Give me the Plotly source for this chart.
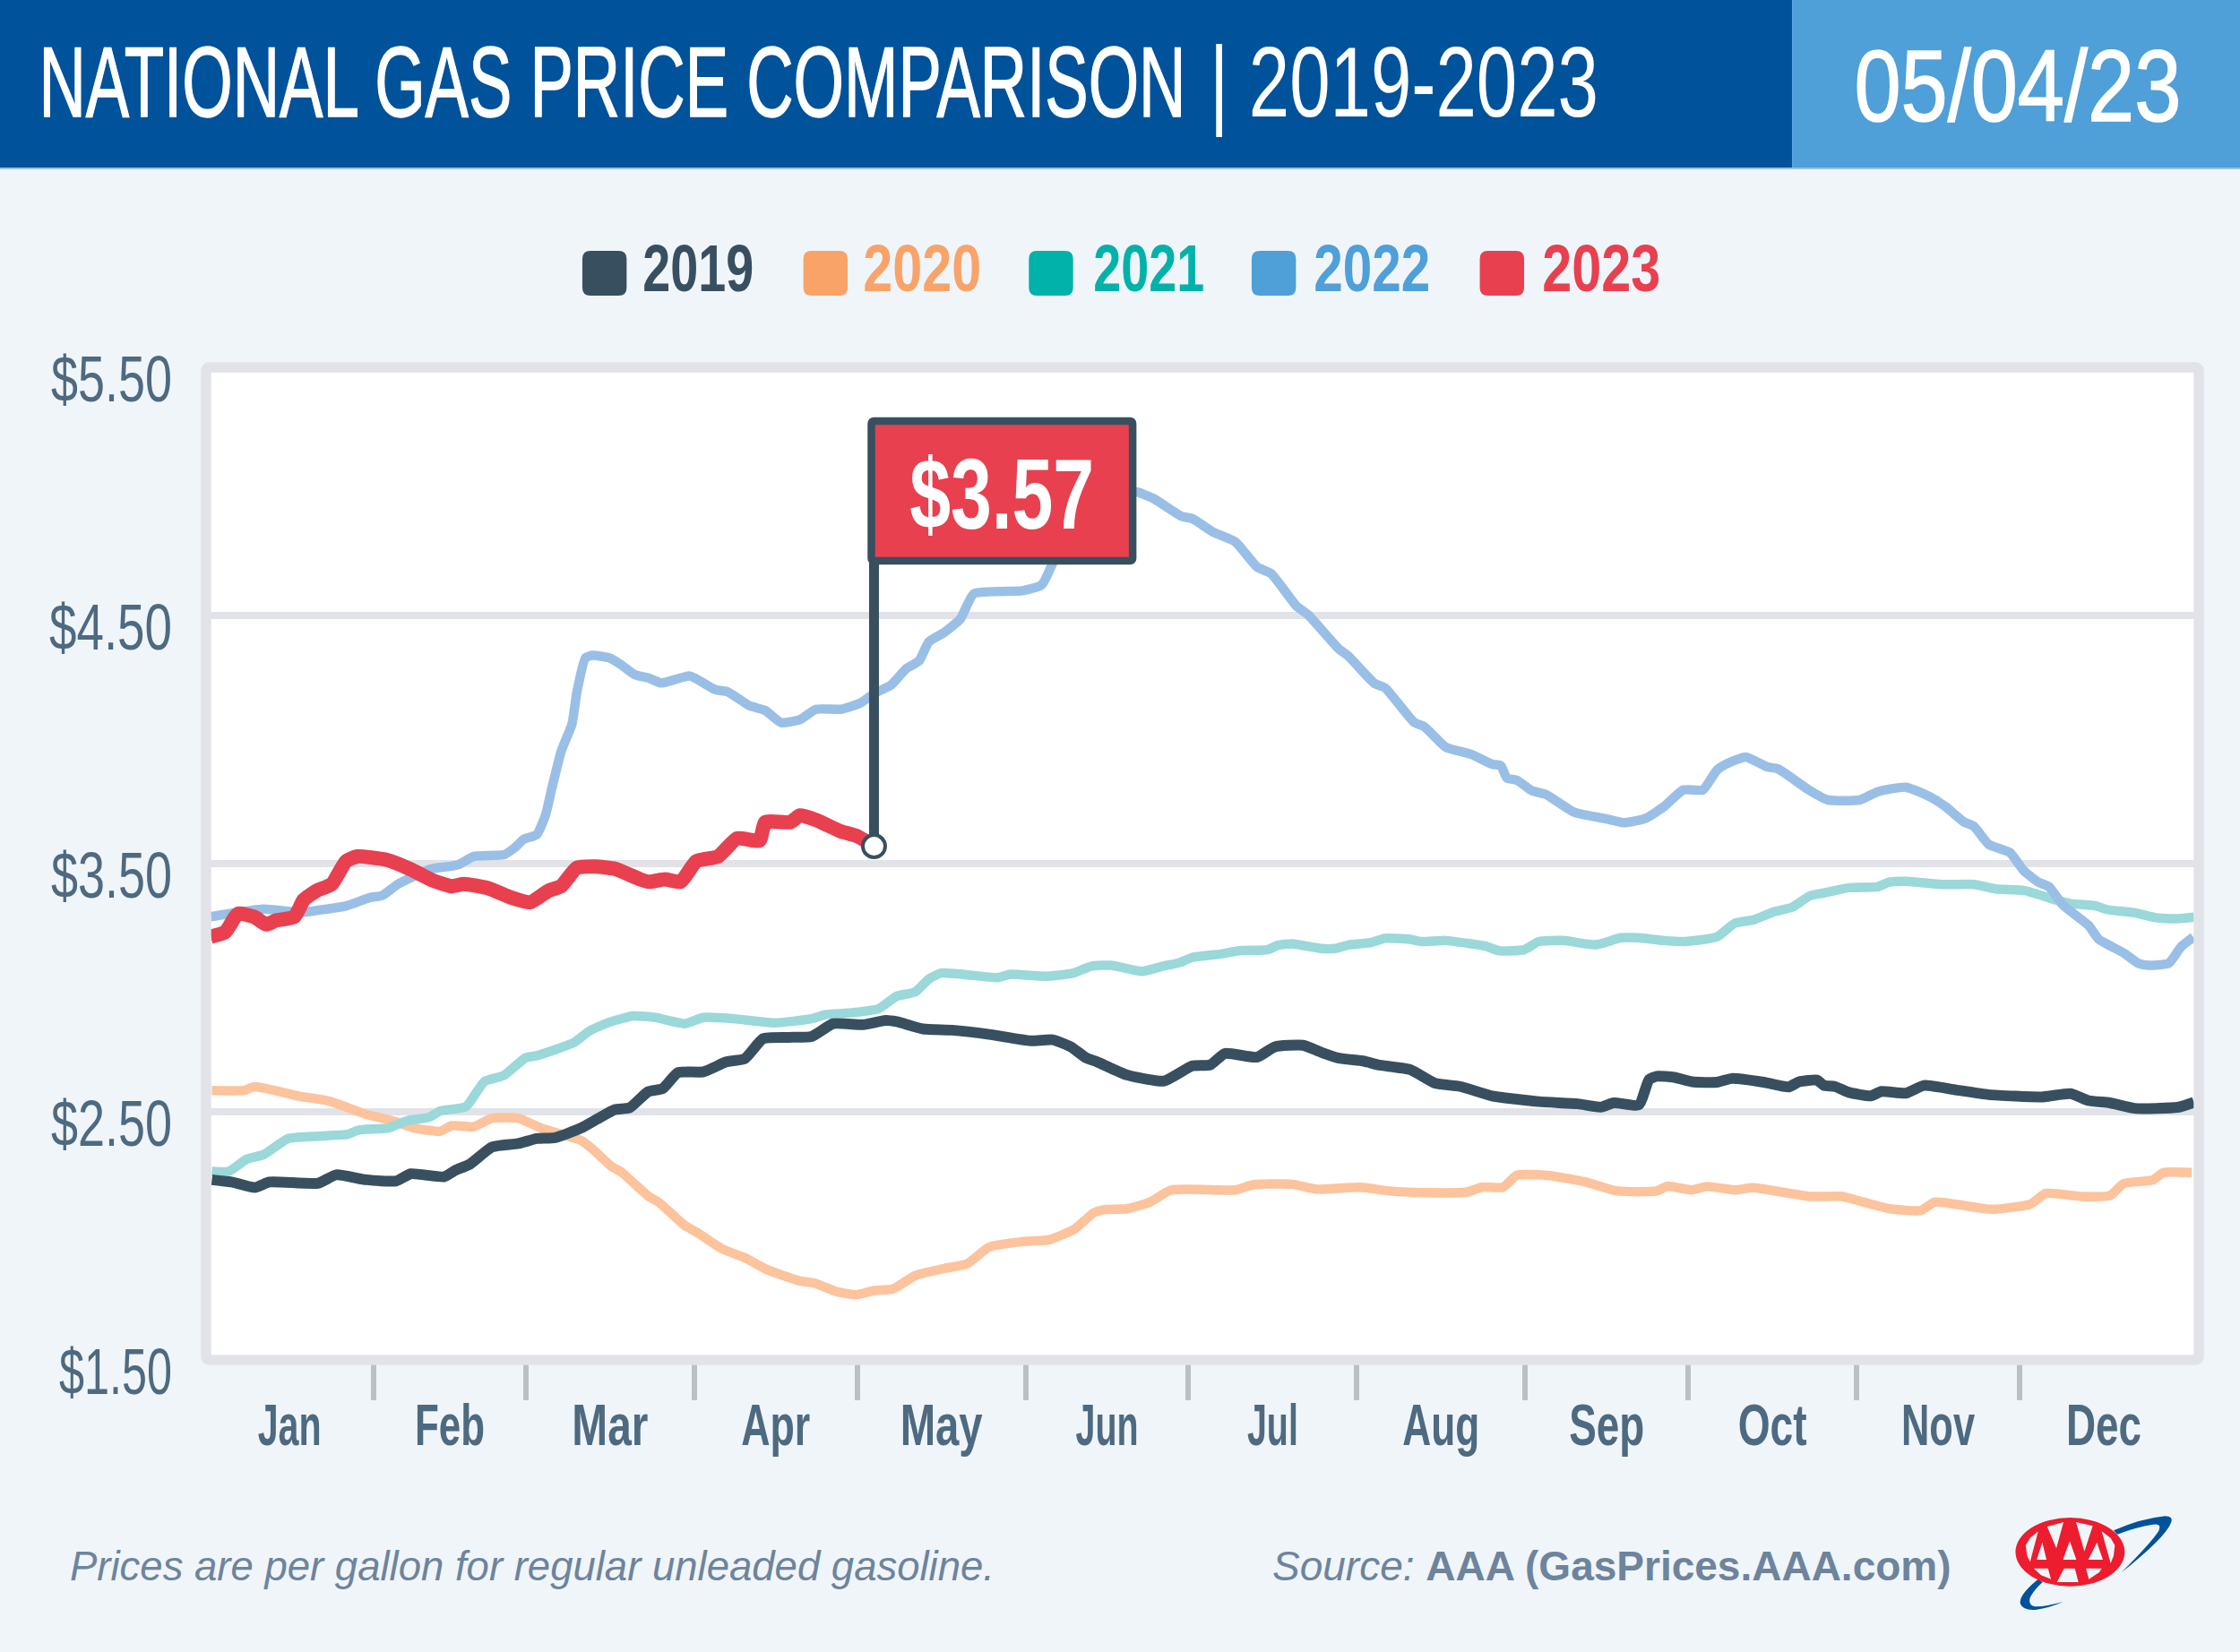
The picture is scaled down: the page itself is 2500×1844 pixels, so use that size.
#!/usr/bin/env python3
"""National gas price comparison, 2019-2023 (values read off the AAA chart)."""

import json
import plotly.graph_objects as go

# day of year where each month starts (2023 calendar)
month_starts = [1, 32, 60, 91, 121, 152, 182, 213, 244, 274, 305, 335, 366]
month_names = ['Jan', 'Feb', 'Mar', 'Apr', 'May', 'Jun', 'Jul', 'Aug', 'Sep', 'Oct', 'Nov', 'Dec']
price_ticks = [1.5, 2.5, 3.5, 4.5, 5.5]
price_labels = ['$1.50', '$2.50', '$3.50', '$4.50', '$5.50']

days_2019 = [2.2, 6, 10.1, 12.8, 21.7, 25.1, 30.6, 36.1, 38.8, 44.9, 47, 49.7, 53.8, 58.6, 62, 65.4, 70.2, 73,
             76.4, 79.1, 82.5, 85.2, 88, 92.7, 96.9, 100.3, 103.7, 108.5, 112.6, 116.6, 122.1, 126.2, 128.3,
             133.1, 138.5, 145.3, 152.9, 157, 160.4, 163.1, 165.2, 170.6, 177.5, 182.7, 186, 188.7, 194.6,
             197.9, 203.1, 206.4, 209.7, 214.3, 216.9, 222.8, 227.4, 232, 237.9, 246.5, 253.7, 257.9, 260.3,
             264.9, 266.8, 268.2, 271.4, 274.7, 279.3, 282, 287.9, 292.5, 294.4, 297.7, 299, 301, 303.6, 307.6,
             309.6, 314.1, 317.4, 323.3, 329.3, 339.1, 344.4, 347.7, 351.6, 356.2, 364.1, 367.1]
prices_2019 = [2.226, 2.216, 2.195, 2.217, 2.212, 2.246, 2.226, 2.221, 2.25, 2.238, 2.264, 2.289, 2.358, 2.372,
               2.392, 2.396, 2.435, 2.469, 2.509, 2.516, 2.581, 2.594, 2.658, 2.661, 2.701, 2.714, 2.795, 2.8,
               2.803, 2.855, 2.851, 2.868, 2.863, 2.834, 2.829, 2.812, 2.786, 2.79, 2.761, 2.718, 2.701, 2.649,
               2.624, 2.685, 2.689, 2.735, 2.72, 2.762, 2.768, 2.74, 2.716, 2.704, 2.689, 2.67, 2.615, 2.602,
               2.564, 2.541, 2.532, 2.519, 2.536, 2.528, 2.63, 2.643, 2.639, 2.621, 2.619, 2.634, 2.619, 2.6,
               2.621, 2.628, 2.606, 2.602, 2.578, 2.564, 2.582, 2.575, 2.606, 2.588, 2.569, 2.56, 2.573, 2.545,
               2.536, 2.514, 2.518, 2.538]

days_2020 = [2.2, 8, 10.1, 18.3, 23.8, 30.6, 35.4, 39.5, 44.2, 46.3, 50.4, 53.8, 58.6, 62.7, 70.2, 72.3, 75.7,
             77.7, 82.5, 84.5, 89.3, 91.4, 96.2, 100.3, 104.4, 110.5, 113.2, 117.3, 120.8, 124.2, 127.6, 131.7,
             137.1, 141.2, 145.3, 151.5, 156.3, 161, 164.5, 166.5, 170.6, 174.9, 178.8, 190.6, 193.9, 201.1,
             205.7, 213.6, 218.9, 226.1, 233.3, 236, 239.9, 242.5, 248.4, 255, 260.9, 268.2, 270.1, 274.7,
             277.4, 282.6, 285.9, 296.4, 302.3, 306.3, 310.9, 316.8, 319.4, 329.9, 337.1, 339.8, 346.3, 351.6,
             354.2, 359.5, 361.5, 366.7]
prices_2020 = [2.586, 2.586, 2.601, 2.563, 2.543, 2.49, 2.464, 2.435, 2.421, 2.444, 2.44, 2.474, 2.474, 2.435,
               2.384, 2.349, 2.281, 2.255, 2.161, 2.135, 2.041, 2.015, 1.947, 1.912, 1.864, 1.818, 1.809, 1.775,
               1.763, 1.78, 1.786, 1.84, 1.869, 1.887, 1.955, 1.977, 1.984, 2.027, 2.092, 2.106, 2.109, 2.136,
               2.185, 2.185, 2.206, 2.208, 2.188, 2.196, 2.181, 2.174, 2.177, 2.196, 2.196, 2.245, 2.243, 2.218,
               2.181, 2.181, 2.2, 2.185, 2.199, 2.185, 2.194, 2.159, 2.159, 2.136, 2.11, 2.102, 2.136, 2.107,
               2.129, 2.171, 2.159, 2.162, 2.211, 2.225, 2.255, 2.255]

days_2021 = [2.2, 5.3, 8.7, 11.7, 16.2, 21, 27.2, 29.2, 34.7, 38.1, 42.2, 44.3, 49, 52.4, 55.9, 60, 62, 68.8,
             71.6, 75, 79.8, 83.9, 89.3, 92.7, 98.2, 105.7, 112.6, 115.3, 119.4, 124.9, 128.3, 131.7, 134.2,
             136.5, 146.9, 149.2, 156.1, 160.8, 164.2, 167.7, 173.5, 177.5, 180.1, 182.7, 188, 191.3, 196.5,
             198.5, 201.1, 206.4, 209, 211.6, 215.6, 218.2, 222.8, 224.8, 229.4, 234, 236.6, 239.2, 243.8,
             246.5, 251, 257, 261.6, 264.9, 269.5, 273.4, 279.3, 282.6, 285.9, 289.8, 293.1, 296.4, 299.7,
             303.6, 308.9, 310.9, 314.1, 320.7, 326.6, 330.6, 335.8, 341.1, 344.4, 349, 351, 356.2, 360.1,
             364.1, 367.1]
prices_2021 = [2.26, 2.26, 2.31, 2.327, 2.392, 2.401, 2.409, 2.426, 2.435, 2.464, 2.478, 2.504, 2.521, 2.623,
               2.646, 2.718, 2.726, 2.778, 2.824, 2.858, 2.886, 2.88, 2.855, 2.88, 2.875, 2.858, 2.875, 2.892,
               2.898, 2.915, 2.966, 2.983, 3.035, 3.059, 3.041, 3.054, 3.046, 3.059, 3.087, 3.09, 3.066, 3.088,
               3.099, 3.122, 3.136, 3.149, 3.153, 3.171, 3.177, 3.158, 3.158, 3.173, 3.182, 3.199, 3.195, 3.186,
               3.19, 3.177, 3.168, 3.149, 3.153, 3.186, 3.19, 3.173, 3.201, 3.201, 3.19, 3.186, 3.205, 3.26,
               3.273, 3.306, 3.324, 3.37, 3.385, 3.403, 3.407, 3.425, 3.429, 3.416, 3.416, 3.398, 3.392, 3.357,
               3.339, 3.33, 3.315, 3.302, 3.282, 3.278, 3.284]

days_2022 = [2, 11.6, 18.6, 24.3, 27, 31.3, 33.6, 36.5, 42.3, 47.5, 50.4, 56, 58, 59.6, 62, 63.6, 64.8, 66.5,
             68.5, 69.4, 71, 72.3, 75.2, 77.5, 80, 82.7, 85, 90.2, 94.9, 97.2, 101.2, 104, 107, 110.5, 113.4,
             118, 121.5, 124.3, 127.2, 130.1, 132.4, 134.2, 137, 140, 142.5, 151.5, 155, 157.3, 160, 162, 165,
             172.2, 175.5, 180.8, 182.7, 186.7, 190.6, 194.6, 197.2, 201.8, 204, 209.7, 211.4, 216.2, 218.2,
             223.5, 225.4, 229.4, 234, 237.9, 239.5, 240.6, 242.5, 245.2, 247.8, 253, 259, 262.2, 266.2, 269.5,
             273.1, 276.7, 279.3, 281.3, 284.6, 288.5, 290.5, 296.4, 299.7, 305.6, 308.9, 314.1, 318.8, 321.4,
             324.7, 326.6, 329.3, 333.2, 335.8, 338.5, 340.4, 343, 347.7, 349.6, 354.2, 356.9, 358.8, 362.5,
             364.7, 367]
prices_2022 = [3.286, 3.317, 3.304, 3.32, 3.33, 3.363, 3.372, 3.418, 3.477, 3.495, 3.529, 3.536, 3.565, 3.598,
               3.617, 3.694, 3.805, 3.952, 4.063, 4.192, 4.33, 4.339, 4.33, 4.302, 4.262, 4.247, 4.228, 4.256,
               4.201, 4.192, 4.136, 4.118, 4.068, 4.081, 4.122, 4.122, 4.146, 4.188, 4.219, 4.287, 4.317, 4.394,
               4.431, 4.486, 4.588, 4.6, 4.624, 4.726, 4.85, 4.95, 5.016, 5.0, 4.972, 4.899, 4.89, 4.834, 4.797,
               4.696, 4.669, 4.54, 4.503, 4.365, 4.337, 4.227, 4.208, 4.07, 4.052, 3.969, 3.941, 3.901, 3.895,
               3.845, 3.836, 3.794, 3.779, 3.707, 3.68, 3.665, 3.683, 3.729, 3.797, 3.797, 3.877, 3.904, 3.93,
               3.89, 3.882, 3.794, 3.757, 3.757, 3.79, 3.808, 3.766, 3.729, 3.669, 3.65, 3.578, 3.545, 3.471,
               3.425, 3.407, 3.333, 3.251, 3.195, 3.14, 3.098, 3.09, 3.099, 3.164, 3.204]

days_2023 = [2, 4.7, 7, 10, 12.2, 14, 17.4, 19.1, 21.5, 24.3, 26.9, 29, 34.2, 38.8, 42.8, 46.3, 48.6, 53.2,
             57.3, 60.8, 64.2, 66.5, 69.4, 72.9, 76.4, 81, 82.7, 85.6, 88.5, 91.4, 95.4, 98.9, 103, 104.1, 108.7,
             110.5, 113.4, 118, 120.9, 124.1]
prices_2023 = [3.206, 3.225, 3.298, 3.285, 3.255, 3.271, 3.286, 3.354, 3.391, 3.418, 3.51, 3.529, 3.516, 3.477,
               3.433, 3.409, 3.418, 3.4, 3.363, 3.344, 3.391, 3.409, 3.483, 3.488, 3.479, 3.437, 3.427, 3.437,
               3.427, 3.51, 3.529, 3.602, 3.593, 3.667, 3.667, 3.694, 3.676, 3.63, 3.612, 3.57]

current_day = 124.1
current_price = 3.57

NAVY = '#00529b'
SKY = '#4f9fd8'
PAGE = '#f0f5f9'
FRAME = '#e1e3e8'
SLATE = '#384f60'
LABEL = '#4d6a80'
RED = '#e8404f'
NOTE = '#6d849c'
NARROW = 'Liberation Sans Narrow, Liberation Sans'
HEAVY = '<span style="stroke:white;stroke-width:1.5px">%s</span>'

# plot area in page pixels
LEFT, RIGHT, TOP, BOTTOM = 227.5, 2454.5, 410, 1518


def xp(px):
    return (px - LEFT) / (RIGHT - LEFT)


def yp(py):
    return (BOTTOM - py) / (BOTTOM - TOP)


def page_path(points, closed=True):
    """SVG path in paper coordinates from page pixel points."""
    d = 'M' + ' L'.join(f'{xp(x):.5f},{yp(y):.5f}' for x, y in points)
    return d + (' Z' if closed else '')


def rounded_path(x0, y0, x1, y1, r):
    d = (f'M{xp(x0 + r):.5f},{yp(y0):.5f} L{xp(x1 - r):.5f},{yp(y0):.5f} '
         f'Q{xp(x1):.5f},{yp(y0):.5f} {xp(x1):.5f},{yp(y0 + r):.5f} '
         f'L{xp(x1):.5f},{yp(y1 - r):.5f} Q{xp(x1):.5f},{yp(y1):.5f} {xp(x1 - r):.5f},{yp(y1):.5f} '
         f'L{xp(x0 + r):.5f},{yp(y1):.5f} Q{xp(x0):.5f},{yp(y1):.5f} {xp(x0):.5f},{yp(y1 - r):.5f} '
         f'L{xp(x0):.5f},{yp(y0 + r):.5f} Q{xp(x0):.5f},{yp(y0):.5f} {xp(x0 + r):.5f},{yp(y0):.5f} Z')
    return d


def paper_rect(x0, y0, x1, y1, color, layer='below'):
    return dict(type='rect', xref='paper', yref='paper', x0=xp(x0), x1=xp(x1), y0=yp(y0), y1=yp(y1),
                fillcolor=color, line_width=0, layer=layer)


def page_text(text, x, y, size, color, bold=False, family=NARROW, anchor='center'):
    shown = f'<b>{text}</b>' if bold else text
    return dict(text=shown, x=xp(x), y=yp(y), xref='paper', yref='paper', xanchor=anchor, yanchor='middle',
                showarrow=False, font=dict(family=family, size=size, color=color))


def logo_shapes():
    """AAA oval and swoosh, points taken off the reference logo."""
    def pt(zx, zy):
        return 2230 + zx / 3, 1680 + zy / 3

    def zpath(cmds):
        out = []
        for c, *vals in cmds:
            coords = [pt(vals[i], vals[i + 1]) for i in range(0, len(vals), 2)]
            out.append(c + ' '.join(f'{xp(x):.5f},{yp(y):.5f}' for x, y in coords))
        return ' '.join(out) + ' Z'

    swoosh_top = zpath([('M', 388, 85), ('Q', 480, 45, 560, 37), ('Q', 590, 38, 580, 60),
                        ('Q', 560, 110, 415, 225), ('Q', 520, 120, 540, 85), ('Q', 550, 60, 520, 65),
                        ('Q', 470, 72, 400, 98)])
    swoosh_low = zpath([('M', 135, 248), ('Q', 70, 300, 75, 330), ('Q', 85, 355, 130, 350),
                        ('Q', 180, 342, 218, 324), ('Q', 160, 340, 125, 340), ('Q', 100, 335, 108, 310),
                        ('Q', 120, 285, 150, 258)])
    holes = [
        [(135, 88), (108, 190), (98, 170), (93, 135), (108, 110)],
        [(149, 125), (130, 183), (163, 183)],
        [(165, 72), (220, 57), (196, 145)],
        [(241, 120), (218, 183), (263, 183)],
        [(262, 57), (318, 70), (290, 155)],
        [(332, 125), (303, 183), (352, 183)],
        [(348, 88), (378, 110), (392, 135), (388, 170), (378, 195)],
        [(120, 212), (168, 212), (178, 248), (145, 235)],
        [(222, 212), (258, 212), (270, 258), (198, 258)],
        [(295, 212), (348, 212), (340, 225), (305, 248)],
    ]
    hole_path = ' '.join(page_path([pt(*p) for p in h]) for h in holes)
    x0, y0 = pt(59, 42)
    x1, y1 = pt(425, 272)
    return [
        dict(type='path', xref='paper', yref='paper', path=swoosh_top, fillcolor=NAVY, line_width=0, layer='below'),
        dict(type='path', xref='paper', yref='paper', path=swoosh_low, fillcolor=NAVY, line_width=0, layer='below'),
        dict(type='circle', xref='paper', yref='paper', x0=xp(x0), x1=xp(x1), y0=yp(y0), y1=yp(y1),
             fillcolor='#ed1c2e', line_width=0, layer='below'),
        dict(type='path', xref='paper', yref='paper', path=hole_path, fillcolor=PAGE, line_width=0, layer='below'),
    ]


fig = go.Figure()

# drawing order: 2019 sits over 2020/2021, the current year over everything
for days, prices, color, width, name in [
    (days_2020, prices_2020, '#fcc39c', 10.5, '2020'),
    (days_2021, prices_2021, '#9ad8da', 10.5, '2021'),
    (days_2022, prices_2022, '#9abfe6', 10.5, '2022'),
    (days_2019, prices_2019, SLATE, 12, '2019'),
    (days_2023, prices_2023, RED, 16, '2023'),
]:
    fig.add_trace(go.Scatter(x=days, y=prices, mode='lines', name=name, showlegend=False,
                             line=dict(color=color, width=width, shape='spline', smoothing=0.5)))

# flag pole and the dot at today's price
fig.add_trace(go.Scatter(x=[current_day, current_day], y=[current_price, 5.2], mode='lines',
                         line=dict(color=SLATE, width=11), showlegend=False))
fig.add_trace(go.Scatter(x=[current_day], y=[current_price], mode='markers', showlegend=False,
                         marker=dict(size=25, color='white', line=dict(color=SLATE, width=4))))

shapes = [
    paper_rect(-5, 0, 2000, 187, NAVY),
    paper_rect(2000, 0, 2505, 187, SKY),
    paper_rect(-5, 187, 2505, 189, '#9cc2e2'),
    # plot frame on top of the lines
    dict(type='path', xref='paper', yref='paper', path=rounded_path(LEFT, TOP, RIGHT, BOTTOM, 4),
         line=dict(color=FRAME, width=11.5), layer='above'),
    # flag
    dict(type='path', xref='paper', yref='paper', path=rounded_path(971, 470, 1263, 626, 3),
         fillcolor=RED, line=dict(color=SLATE, width=8.5), layer='above'),
]

annotations = [
    page_text(HEAVY % 'NATIONAL GAS PRICE COMPARISON', 682, 91.5, 112, 'white'),
    page_text('| 2019-2023', 1566, 91.5, 112, 'white'),
    page_text(HEAVY % '05/04/23', 2252, 95.5, 114, 'white'),
    page_text('$3.57', 1117, 551, 112, 'white', bold=True),
    page_text('<i>Prices are per gallon for regular unleaded gasoline.</i>', 73, 1748, 45.5, NOTE,
              family='Liberation Sans', anchor='left'),
    page_text('<i>Source:</i> <b>AAA (GasPrices.AAA.com)</b>', 2180, 1748, 46, NOTE,
              family='Liberation Sans', anchor='right'),
]

legend_years = ['2019', '2020', '2021', '2022', '2023']
legend_colors = [SLATE, '#f9a369', '#00b2a9', SKY, RED]
legend_swatch_left = [648, 895, 1147, 1396, 1651]
legend_text_mid = [778, 1028, 1281, 1531, 1787]
for year, color, sx, tx in zip(legend_years, legend_colors, legend_swatch_left, legend_text_mid):
    shapes.append(dict(type='path', xref='paper', yref='paper', path=rounded_path(sx, 280, sx + 49.5, 330, 9),
                       fillcolor=color, line_width=0, layer='below'))
    annotations.append(page_text(year, tx, 299.5, 74, color, bold=True))

shapes.extend(logo_shapes())

month_mids = [(a + b) / 2 for a, b in zip(month_starts[:-1], month_starts[1:])]

fig.update_layout(
    width=2500, height=1844,
    margin=dict(l=LEFT, r=2500 - RIGHT, t=TOP, b=1844 - BOTTOM, pad=0),
    paper_bgcolor=PAGE, plot_bgcolor='white',
    showlegend=False,
    shapes=shapes, annotations=annotations,
    xaxis=dict(
        range=[1.13, 368], showgrid=False, zeroline=False, showline=False,
        tickmode='array', tickvals=month_mids, ticktext=month_names, ticks='',
        ticklabelstandoff=30, tickfont=dict(family=NARROW, size=64, color=LABEL, weight='bold'),
        minor=dict(tickmode='array', tickvals=month_starts[1:-1], ticks='outside', ticklen=44,
                   tickwidth=6, tickcolor='#bcc0c6', showgrid=False),
    ),
    yaxis=dict(
        range=[1.5, 5.5], zeroline=False, showline=False,
        tickmode='array', tickvals=price_ticks, ticktext=price_labels, ticks='',
        showgrid=True, gridcolor=FRAME, gridwidth=7.6,
        ticklabelstandoff=37, ticklabelshift=13, tickfont=dict(family=NARROW, size=72, color=LABEL),
    ),
)

# the reference type is far narrower than any installed face, so squeeze glyphs to the measured widths
text_widths = {
    'NATIONAL GAS PRICE COMPARISON': 1280, '| 2019-2023': 434, '05/04/23': 365, '$3.57': 206,
    '2019': 124, '2020': 132, '2021': 124, '2022': 130, '2023': 132,
    '$5.50': 135, '$4.50': 137, '$3.50': 135, '$2.50': 135, '$1.50': 126,
    'Jan': 71, 'Feb': 78, 'Mar': 85, 'Apr': 77, 'May': 92, 'Jun': 70,
    'Jul': 57, 'Aug': 86, 'Sep': 84, 'Oct': 77, 'Nov': 82, 'Dec': 84,
}
post_script = """
document.body.style.margin = '0';
var gd = document.querySelector('.plotly-graph-div');
gd.style.position = 'absolute'; gd.style.left = '0'; gd.style.top = '0';
var widths = %s;
document.querySelectorAll('svg text').forEach(function (t) {
    var w = widths[t.textContent];
    if (w) { t.setAttribute('textLength', w); t.setAttribute('lengthAdjust', 'spacingAndGlyphs'); }
});
""" % json.dumps(text_widths)

fig.write_html("out.html", post_script=post_script, config=dict(displayModeBar=False))
